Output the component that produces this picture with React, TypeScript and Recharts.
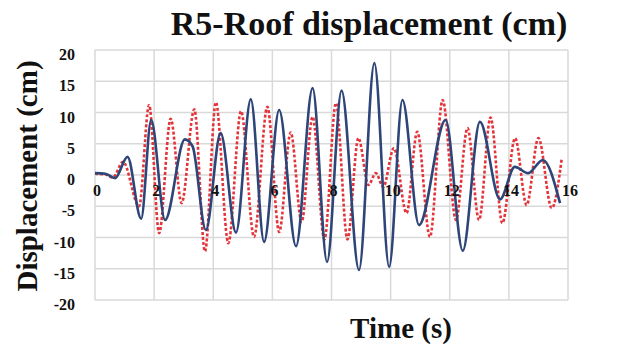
import React from 'react';
import { LineChart, Line, XAxis, YAxis, CartesianGrid } from 'recharts';

// blue solid series (time in s, displacement in cm)
const blueTime = [0, 0.35, 0.68, 1.1, 1.56, 1.9, 2.37, 3.04, 3.3, 3.75, 4.25, 4.77, 5.27, 5.72, 6.23, 6.8, 7.36, 7.85, 8.34, 8.93, 9.45, 9.95, 10.4, 10.96, 11.86, 12.44, 13.02, 13.7, 14.2, 14.65, 15.15, 15.73];
const blueDisp = [0.3, 0.2, -0.5, 2.9, -7, 8.8, -7.2, 5.7, 4.6, -8.8, 6.7, -9.2, 12.1, -10.7, 10.4, -11.4, 13.9, -13.9, 13.5, -15.2, 17.9, -14.7, 12, -8, 8.8, -12.1, 8.5, -3.9, 1.3, 0.3, 2.4, -4.5];

// red dotted series
const redTime = [0, 0.35, 0.6, 0.95, 1.49, 1.83, 2.17, 2.56, 2.93, 3.36, 3.72, 4.09, 4.51, 4.94, 5.38, 5.83, 6.23, 6.62, 6.99, 7.36, 7.76, 8.15, 8.54, 8.91, 9.25, 9.5, 9.75, 10.11, 10.54, 10.9, 11.33, 11.76, 12.21, 12.6, 12.99, 13.38, 13.78, 14.21, 14.6, 15.0, 15.45, 15.79];
const redDisp = [0.2, 0.1, -0.4, 2.1, -5, 11.2, -9.3, 9, -4.5, 10.5, -12.2, 11.6, -10.9, 10.2, -9.9, 10.9, -9.1, 6.8, -7.5, 9.3, -10.3, 11.5, -10.3, 5.9, -1.6, 0.3, -1.9, 4.3, -6.1, 6.9, -9.9, 12, -7.2, 7.5, -7.2, 9.2, -7.7, 5.9, -4.8, 5.9, -5.3, 2.7];

const xTicks = [0, 2, 4, 6, 8, 10, 12, 14, 16];
const yTicks = [-20, -15, -10, -5, 0, 5, 10, 15, 20];

const blueData = blueTime.map((t, i) => ({ t, v: blueDisp[i] }));
const redData = redTime.map((t, i) => ({ t, v: redDisp[i] }));

const FONT = '"Liberation Serif", "Times New Roman", serif';

// x labels sit on the zero line, Excel style
const XTick = (props: any) => {
  const { x, payload } = props;
  return (
    <text x={x + 2} y={196} textAnchor="middle" fontFamily={FONT} fontWeight="bold" fontSize={16} fill="#111">
      {payload.value}
    </text>
  );
};

const YTick = (props: any) => {
  const { y, payload } = props;
  return (
    <text x={75} y={y + 10} textAnchor="end" fontFamily={FONT} fontWeight="bold" fontSize={16} fill="#111">
      {payload.value}
    </text>
  );
};

export default function App() {
  return (
    <div style={{ position: 'absolute', left: 0, top: 0, width: 622, height: 350, background: '#fff', fontFamily: FONT }}>
      <div style={{ position: 'absolute', left: 369 - 250, top: 4, width: 500, textAlign: 'center', fontSize: 34, lineHeight: '40px', fontWeight: 'bold', color: '#111' }}>
        R5-Roof displacement (cm)
      </div>
      <div style={{ position: 'absolute', left: 401 - 100, top: 311, width: 200, textAlign: 'center', fontSize: 29, lineHeight: '34px', fontWeight: 'bold', color: '#111' }}>
        Time (s)
      </div>
      <div
        style={{
          position: 'absolute', left: 27 - 150, top: 176 - 17, width: 300, height: 34, lineHeight: '34px',
          textAlign: 'center', fontSize: 29, fontWeight: 'bold', color: '#111', transform: 'rotate(-90deg)',
        }}
      >
        Displacement (cm)
      </div>
      <div style={{ position: 'absolute', left: 0, top: 0 }}>
        <LineChart width={622} height={350} margin={{ top: 50, right: 54, bottom: 0, left: 0 }}>
          <CartesianGrid stroke="#d9d9d9" strokeWidth={1.5} />
          <XAxis
            type="number"
            dataKey="t"
            domain={[0, 16]}
            ticks={xTicks}
            height={50}
            axisLine={false}
            tickLine={false}
            tick={<XTick />}
            allowDuplicatedCategory={false}
          />
          <YAxis
            type="number"
            dataKey="v"
            domain={[-20, 20]}
            ticks={yTicks}
            width={95}
            axisLine={false}
            tickLine={false}
            tick={<YTick />}
          />
          <Line
            data={redData}
            type="monotone"
            dataKey="v"
            stroke="#e3343a"
            strokeWidth={2.6}
            strokeDasharray="3 2"
            dot={false}
            isAnimationActive={false}
          />
          <Line
            data={blueData}
            type="monotone"
            dataKey="v"
            stroke="#2d4578"
            strokeWidth={2.6}
            dot={false}
            isAnimationActive={false}
          />
        </LineChart>
      </div>
    </div>
  );
}
